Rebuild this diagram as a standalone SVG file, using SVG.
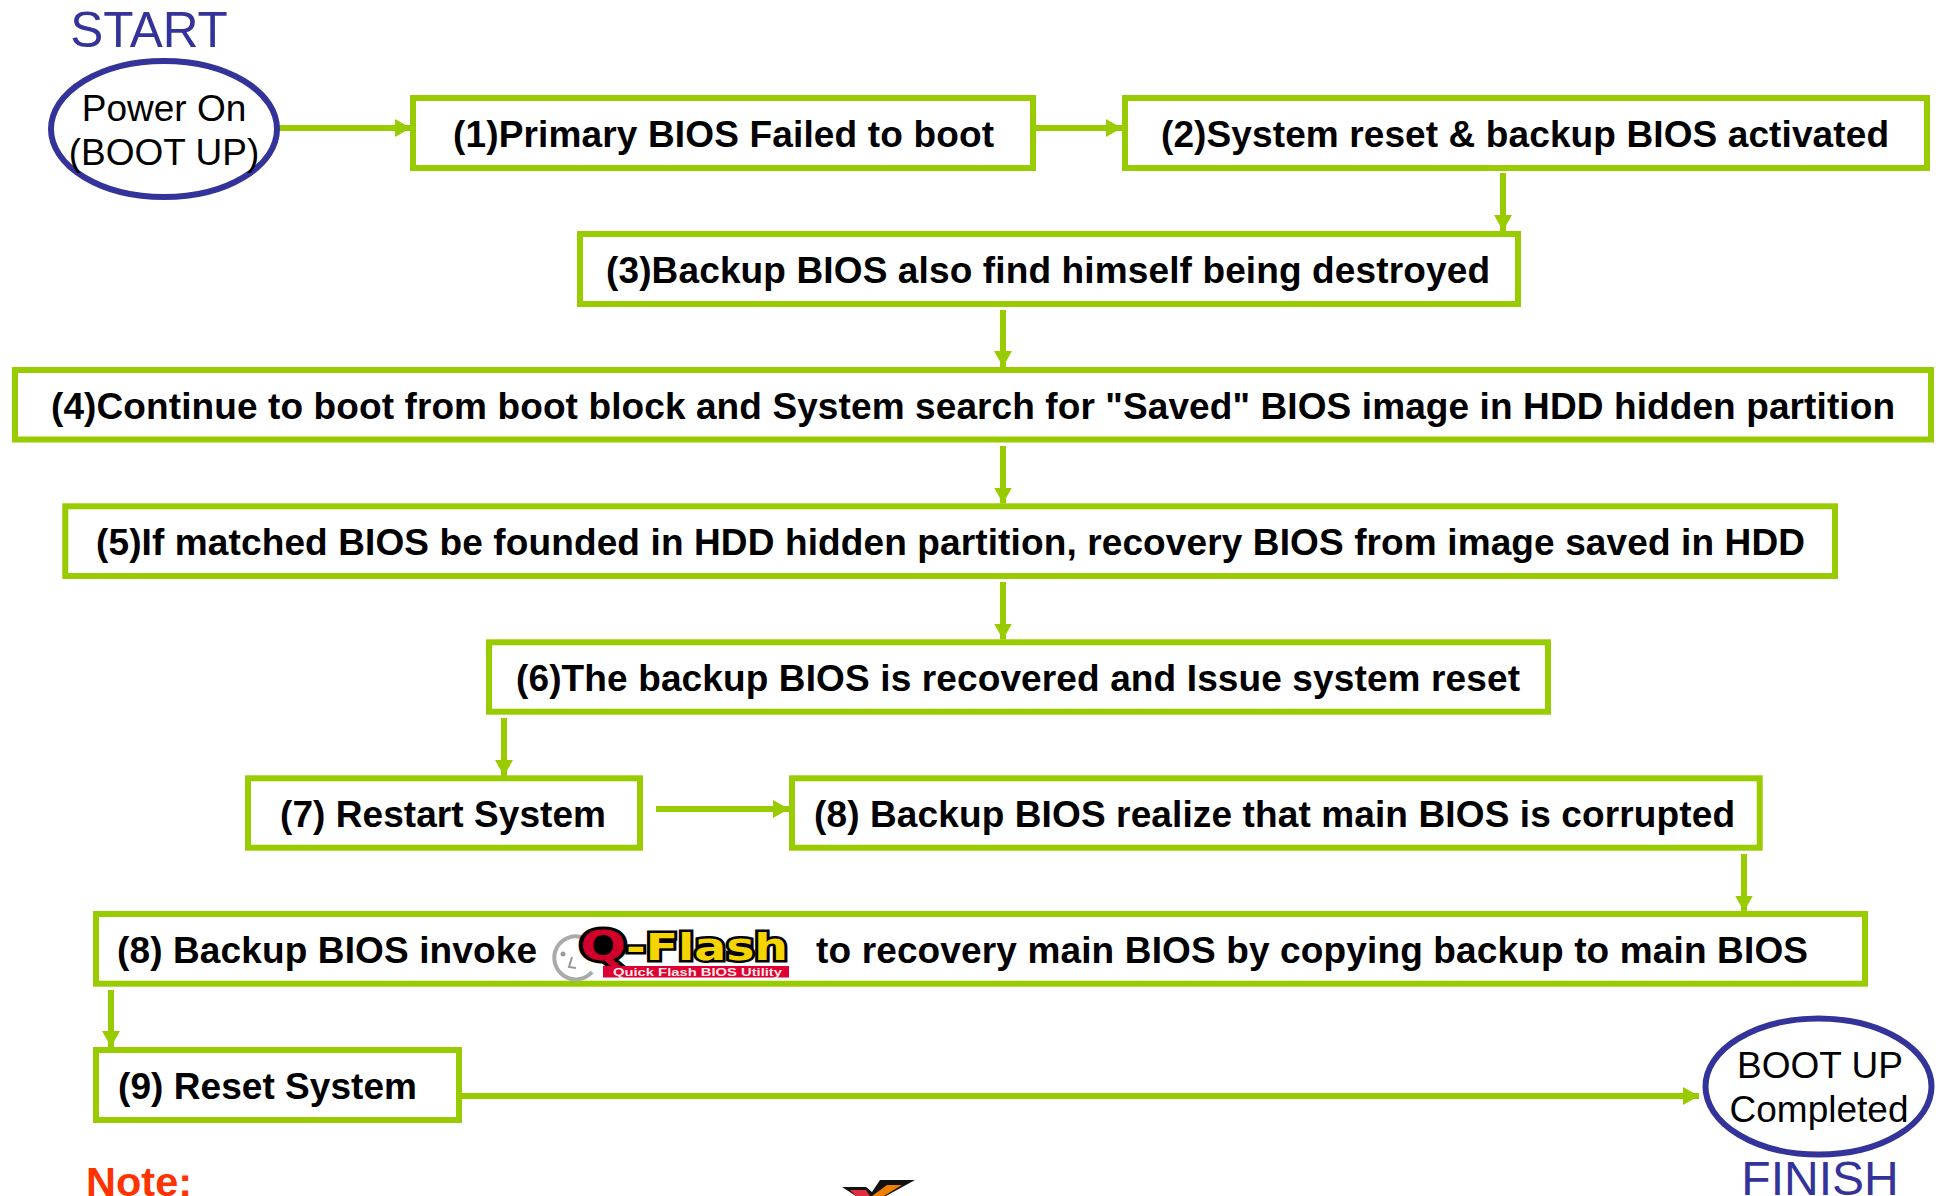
<svg xmlns="http://www.w3.org/2000/svg" width="1936" height="1196" viewBox="0 0 1936 1196">
<style>
text{font-family:"Liberation Sans",Arial,sans-serif}
.b{fill:#fff;stroke:#99CC00;stroke-width:6}
.e{fill:#fff;stroke:#333399;stroke-width:6}
.t{font-size:37px;font-weight:700;fill:#000}
.n{font-size:37px;fill:#000;text-anchor:middle}
.s{fill:#333399;text-anchor:middle}
.c{stroke:#99CC00;stroke-width:6;fill:none;marker-end:url(#a)}
.l{font-family:"DejaVu Sans",sans-serif;font-weight:700;stroke:#000;paint-order:stroke}
</style>
<defs><marker id="a" markerUnits="userSpaceOnUse" markerWidth="18" markerHeight="18" refX="16" refY="9" orient="auto"><path d="M0 0L16 9L0 18Z" fill="#99CC00"/></marker></defs>
<rect width="1936" height="1196" fill="#fff"/>
<g id="connectors">
<path class="c" d="M275 128H411"/>
<path class="c" d="M1035 128H1122"/>
<path class="c" d="M1503 173V231"/>
<path class="c" d="M1003 310V367"/>
<path class="c" d="M1003 446V503.500"/>
<path class="c" d="M1003 582V639.500"/>
<path class="c" d="M504 718V776"/>
<path class="c" d="M656 809H789"/>
<path class="c" d="M1744 854V911.500"/>
<path class="c" d="M111 990V1047"/>
<path class="c" d="M462 1096H1699"/>
</g>
<text class="s" x="149" y="47" font-size="49.500">START</text>
<g id="start"><ellipse class="e" cx="164" cy="129" rx="113" ry="68"/><text class="n" x="164" y="121">Power On</text><text class="n" x="164" y="165">(BOOT UP)</text></g>
<g id="n1"><rect class="b" x="413" y="98" width="620" height="70"/><text class="t" x="453" y="147" textLength="541">(1)Primary BIOS Failed to boot</text></g>
<g id="n2"><rect class="b" x="1125" y="98" width="802" height="70"/><text class="t" x="1161" y="147" textLength="728">(2)System reset &amp; backup BIOS activated</text></g>
<g id="n3"><rect class="b" x="580" y="234" width="938" height="70"/><text class="t" x="606" y="283" textLength="884">(3)Backup BIOS also find himself being destroyed</text></g>
<g id="n4"><rect class="b" x="15" y="370" width="1916" height="69.500"/><text class="t" x="51" y="418.500" textLength="1844">(4)Continue to boot from boot block and System search for "Saved" BIOS image in HDD hidden partition</text></g>
<g id="n5"><rect class="b" x="65.300" y="506.300" width="1769.700" height="69.700"/><text class="t" x="96" y="555" textLength="1709">(5)If matched BIOS be founded in HDD hidden partition, recovery BIOS from image saved in HDD</text></g>
<g id="n6"><rect class="b" x="489" y="642.300" width="1059" height="69.400"/><text class="t" x="516" y="691" textLength="1004">(6)The backup BIOS is recovered and Issue system reset</text></g>
<g id="n7"><rect class="b" x="248" y="778.300" width="392" height="69.400"/><text class="t" x="280" y="827" textLength="326">(7) Restart System</text></g>
<g id="n8a"><rect class="b" x="792" y="778.300" width="967.700" height="69.400"/><text class="t" x="814" y="827" textLength="921">(8) Backup BIOS realize that main BIOS is corrupted</text></g>
<g id="n8b"><rect class="b" x="96" y="914" width="1769" height="69.700"/><text class="t" x="117" y="962.500" textLength="420">(8) Backup BIOS invoke</text><text class="t" x="816" y="962.500" textLength="992">to recovery main BIOS by copying backup to main BIOS</text>
<g id="qflash">
<path d="M584 938A21.500 21.500 0 1 0 592 972" fill="none" stroke="#aaa" stroke-width="4"/>
<circle cx="563" cy="954" r="2.500" fill="#999"/><path d="M572 957L569 967L576 968" fill="none" stroke="#999" stroke-width="2"/>
<ellipse cx="602" cy="948" rx="17" ry="14" fill="#000"/>
<text class="l" x="580" y="960" font-size="40" fill="#D0002A" stroke-width="6" textLength="46" lengthAdjust="spacingAndGlyphs">Q</text>
<text class="l" x="626" y="960" font-size="38" fill="#F5D400" stroke-width="5" textLength="162" lengthAdjust="spacingAndGlyphs">-Flash</text>
<rect x="603" y="966" width="186" height="11.500" fill="#DD0033"/>
<text x="613" y="975.500" font-family="DejaVu Sans" font-size="10.500" font-weight="700" fill="#ffe8e8" textLength="169" lengthAdjust="spacingAndGlyphs">Quick Flash BIOS Utility</text>
</g></g>
<g id="n9"><rect class="b" x="96" y="1050" width="363" height="70"/><text class="t" x="118" y="1099" textLength="299">(9) Reset System</text></g>
<g id="finish"><ellipse class="e" cx="1818.500" cy="1086.500" rx="113" ry="68"/><text class="n" x="1820" y="1078">BOOT UP</text><text class="n" x="1819" y="1122">Completed</text></g>
<text class="s" x="1820" y="1195" font-size="48">FINISH</text>
<text x="86" y="1196" font-size="41.500" font-weight="700" fill="#FF3300">Note:</text>
<g id="logo-fragment"><path d="M842 1187H866L872 1192L880 1180H915L886 1196H856Z" fill="#111"/><path d="M850 1190H866L870 1196H856Z" fill="#E03040"/><path d="M887 1185H902L884 1196H872Z" fill="#F08000"/></g>
</svg>
